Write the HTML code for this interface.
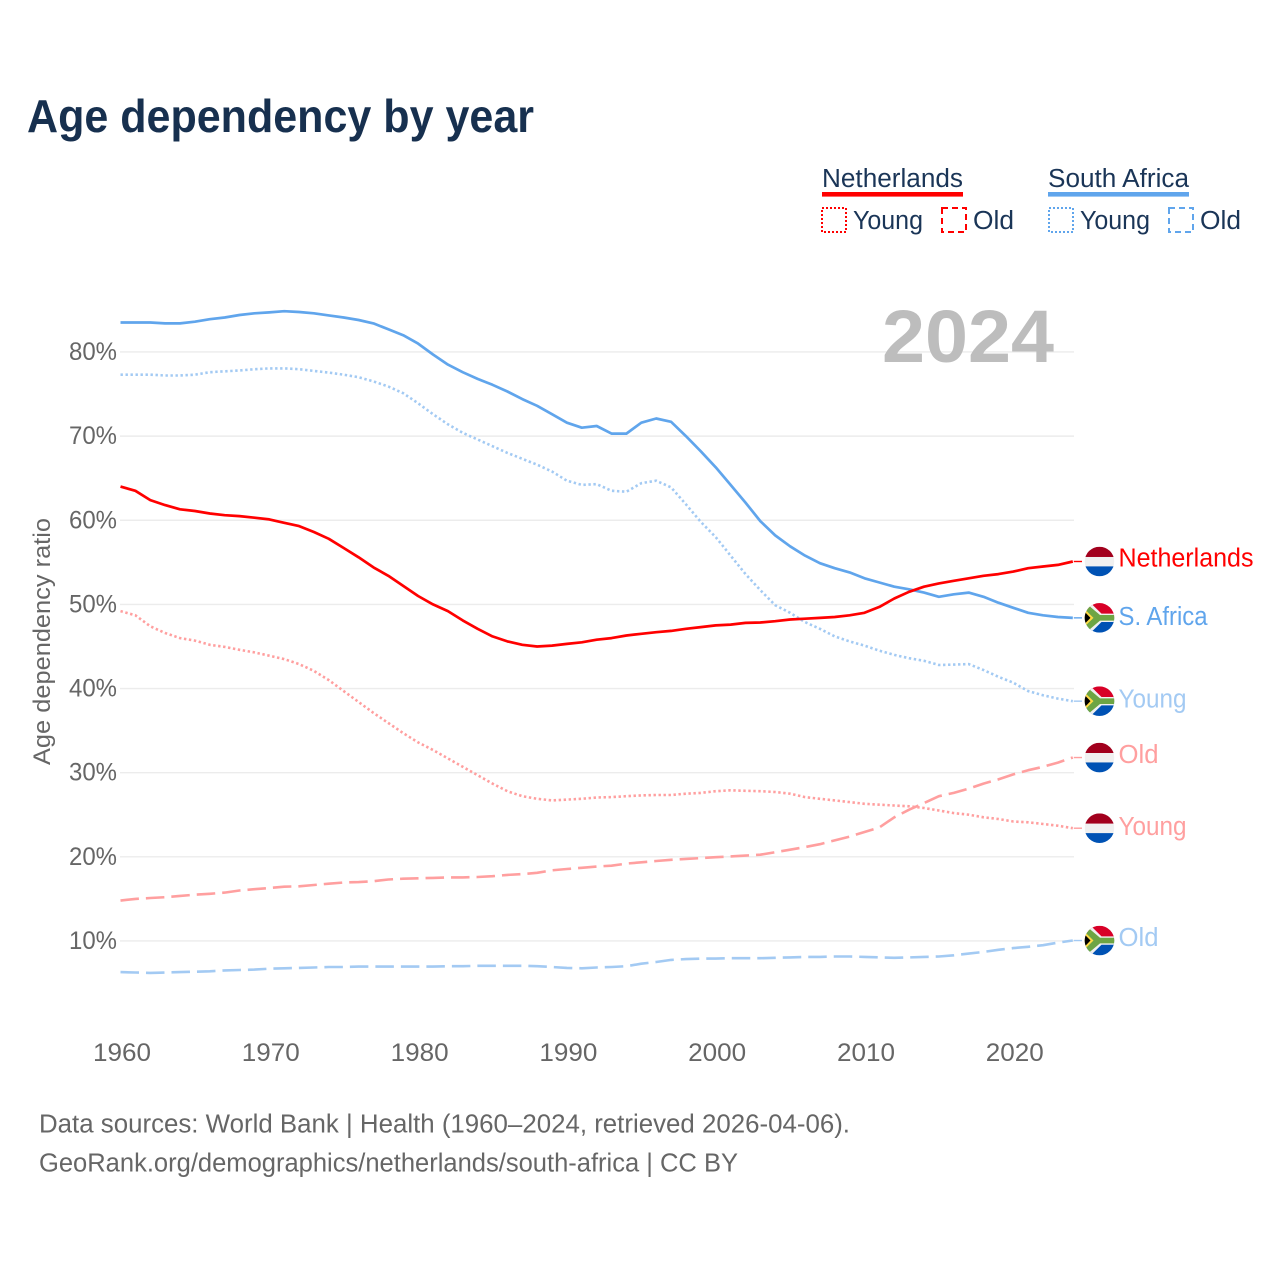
<!DOCTYPE html>
<html lang="en">
<head>
<meta charset="utf-8">
<title>Age dependency by year</title>
<style>
  html,body{margin:0;padding:0;background:#fff;}
  svg{display:block;}
  text{font-family:"Liberation Sans",sans-serif;}
</style>
</head>
<body>
<svg id="chart" xmlns="http://www.w3.org/2000/svg" width="1280" height="1280" viewBox="0 0 1280 1280">
  <rect width="1280" height="1280" fill="#ffffff"/>
  <text x="27" y="132" font-size="46" font-weight="700" fill="#17304f" textLength="507" lengthAdjust="spacingAndGlyphs">Age dependency by year</text>

  <g font-size="25.5" fill="#1a3557">
    <text x="822" y="187" textLength="141" lengthAdjust="spacingAndGlyphs">Netherlands</text>
    <rect x="822" y="192" width="141" height="4.6" fill="#ff0000"/>
    <rect x="822" y="208" width="24" height="24" fill="none" stroke="#ff0000" stroke-width="2" stroke-dasharray="2 2"/>
    <text x="853" y="229" textLength="70" lengthAdjust="spacingAndGlyphs">Young</text>
    <rect x="942" y="208" width="24" height="24" fill="none" stroke="#ff0000" stroke-width="2" stroke-dasharray="6 4"/>
    <text x="973" y="229" textLength="41" lengthAdjust="spacingAndGlyphs">Old</text>

    <text x="1048" y="187" textLength="141" lengthAdjust="spacingAndGlyphs">South Africa</text>
    <rect x="1048" y="192" width="141" height="4.6" fill="#60a5ec"/>
    <rect x="1049" y="208" width="24" height="24" fill="none" stroke="#60a5ec" stroke-width="2" stroke-dasharray="2 2"/>
    <text x="1080" y="229" textLength="70" lengthAdjust="spacingAndGlyphs">Young</text>
    <rect x="1169" y="208" width="24" height="24" fill="none" stroke="#60a5ec" stroke-width="2" stroke-dasharray="6 4"/>
    <text x="1200" y="229" textLength="41" lengthAdjust="spacingAndGlyphs">Old</text>
  </g>

  <g id="grid"></g>
  <g id="yticks"></g>
  <g id="xticks"></g>

  <text x="0" y="0" transform="translate(50 765) rotate(-90)" font-size="24.5" fill="#666666" textLength="247" lengthAdjust="spacingAndGlyphs">Age dependency ratio</text>

  <text x="1054" y="362" text-anchor="end" font-size="74" font-weight="700" fill="#bdbdbd" textLength="172" lengthAdjust="spacingAndGlyphs">2024</text>

  <g id="series"></g>
  <g id="ends"></g>

  <text x="39" y="1132.5" font-size="25.5" fill="#666666" textLength="811" lengthAdjust="spacingAndGlyphs">Data sources: World Bank | Health (1960–2024, retrieved 2026-04-06).</text>
  <text x="39" y="1171.5" font-size="25.5" fill="#666666" textLength="699" lengthAdjust="spacingAndGlyphs">GeoRank.org/demographics/netherlands/south-africa | CC BY</text>
</svg>

<script>
const startYear = 1960;
const xTickYears = [1960, 1970, 1980, 1990, 2000, 2010, 2020];
const yTickValues = [10, 20, 30, 40, 50, 60, 70, 80];

const southAfricaTotal = [
  83.5,83.5,83.5,83.4,83.4,83.6,83.9,84.1,84.4,84.6,
  84.7,84.85,84.75,84.6,84.35,84.1,83.8,83.4,82.7,82.0,
  81.0,79.7,78.5,77.6,76.8,76.1,75.3,74.4,73.6,72.6,
  71.6,71.0,71.2,70.3,70.3,71.6,72.1,71.7,70.0,68.2,
  66.3,64.2,62.1,59.9,58.2,56.9,55.8,54.9,54.3,53.8,
  53.1,52.6,52.1,51.8,51.4,50.9,51.2,51.4,50.9,50.2,
  49.6,49.0,48.7,48.5,48.4
];
const southAfricaYoung = [
  77.3,77.3,77.3,77.2,77.2,77.3,77.6,77.7,77.8,77.95,
  78.05,78.05,77.95,77.75,77.55,77.3,77.0,76.5,75.9,75.1,
  73.9,72.6,71.4,70.4,69.6,68.8,68.0,67.3,66.6,65.8,
  64.7,64.2,64.3,63.5,63.4,64.4,64.7,63.9,61.9,59.8,
  58.0,55.8,53.6,51.7,49.9,49.0,47.9,47.1,46.2,45.6,
  45.1,44.5,44.0,43.6,43.3,42.8,42.85,42.9,42.2,41.4,
  40.7,39.7,39.2,38.8,38.5
];
const southAfricaOld = [
  6.3,6.25,6.2,6.25,6.3,6.35,6.4,6.5,6.55,6.6,
  6.7,6.75,6.8,6.85,6.9,6.9,6.95,6.95,6.95,6.95,
  6.95,6.95,7.0,7.0,7.05,7.05,7.05,7.05,7.0,6.9,
  6.8,6.75,6.85,6.9,7.0,7.3,7.5,7.75,7.85,7.9,
  7.9,7.95,7.95,7.95,8.0,8.05,8.1,8.1,8.15,8.15,
  8.1,8.05,8.0,8.05,8.1,8.15,8.3,8.5,8.7,8.95,
  9.15,9.3,9.5,9.8,10.05
];
const netherlandsTotal = [
  64.0,63.5,62.4,61.8,61.3,61.1,60.8,60.6,60.5,60.3,
  60.1,59.7,59.3,58.6,57.8,56.7,55.6,54.4,53.4,52.2,
  51.0,50.0,49.2,48.1,47.1,46.2,45.6,45.2,45.0,45.1,
  45.3,45.5,45.8,46.0,46.3,46.5,46.7,46.85,47.1,47.3,
  47.5,47.6,47.8,47.85,48.0,48.2,48.3,48.4,48.5,48.7,
  49.0,49.7,50.7,51.5,52.1,52.5,52.8,53.1,53.4,53.6,
  53.9,54.3,54.5,54.7,55.1
];
const netherlandsYoung = [
  49.2,48.7,47.4,46.6,46.0,45.7,45.2,44.95,44.6,44.3,
  43.9,43.5,42.9,42.1,41.0,39.7,38.4,37.1,35.9,34.7,
  33.6,32.7,31.7,30.7,29.7,28.7,27.8,27.2,26.9,26.7,
  26.8,26.9,27.05,27.1,27.2,27.3,27.35,27.35,27.5,27.6,
  27.8,27.9,27.85,27.8,27.7,27.5,27.1,26.9,26.7,26.5,
  26.3,26.2,26.1,26.0,25.8,25.5,25.2,25.0,24.7,24.5,
  24.2,24.1,23.9,23.7,23.4
];
const netherlandsOld = [
  14.8,15.0,15.1,15.2,15.35,15.5,15.6,15.75,16.0,16.15,
  16.3,16.45,16.5,16.65,16.8,16.95,17.0,17.1,17.3,17.4,
  17.45,17.5,17.55,17.55,17.6,17.7,17.85,17.95,18.1,18.4,
  18.55,18.7,18.85,18.95,19.2,19.35,19.5,19.65,19.75,19.85,
  19.95,20.05,20.15,20.25,20.55,20.85,21.15,21.5,21.95,22.4,
  22.95,23.5,24.7,25.6,26.4,27.2,27.6,28.1,28.7,29.2,
  29.8,30.3,30.7,31.2,31.8
];

const NS = 'http://www.w3.org/2000/svg';
const xScale = function (year) { return 120.5 + (year - 1960) * 14.88; };
const yScale = function (value) { return 1025.1 - value * 8.414; };

function svgEl(tag, attrs, parent) {
  const el = document.createElementNS(NS, tag);
  Object.keys(attrs).forEach(function (k) { el.setAttribute(k, attrs[k]); });
  parent.appendChild(el);
  return el;
}

const gridG = document.getElementById('grid');
const yG = document.getElementById('yticks');
const xG = document.getElementById('xticks');

yTickValues.forEach(function (v) {
  const y = yScale(v);
  const line = svgEl('line', {x1: 120, x2: 1074, y1: y, y2: y, stroke: '#ececec', 'stroke-width': 1.4}, gridG);
  
  
  const t = svgEl('text', {x: 117, y: y + 8, 'text-anchor': 'end', 'font-size': 25, fill: '#666666', textLength: 48, lengthAdjust: 'spacingAndGlyphs'}, yG);
  t.textContent = v + '%';
  
  
});

xTickYears.forEach(function (yr) {
  const t = svgEl('text', {x: xScale(yr) + 1.5, y: 1061, 'text-anchor': 'middle', 'font-size': 25, fill: '#666666', textLength: 58, lengthAdjust: 'spacingAndGlyphs'}, xG);
  t.textContent = yr;
  
  
});

const seriesDefs = [
  {id: 'south-africa-old', vals: southAfricaOld, color: '#a3caf3', dash: '18.5 7', w: 2.6, country: 'za', label: 'Old', lw: 40, dy: 5.7},
  {id: 'netherlands-old', vals: netherlandsOld, color: '#ff9f9f', dash: '18.5 7', w: 2.6, country: 'nl', label: 'Old', lw: 40, dy: 5.7},
  {id: 'netherlands-young', vals: netherlandsYoung, color: '#ff9f9f', dash: '2.4 2.6', w: 2.6, country: 'nl', label: 'Young', lw: 68, dy: 7},
  {id: 'south-africa-young', vals: southAfricaYoung, color: '#a3caf3', dash: '2.4 2.6', w: 2.6, country: 'za', label: 'Young', lw: 68, dy: 6.5},
  {id: 'south-africa-total', vals: southAfricaTotal, color: '#60a5ec', dash: null, w: 2.7, country: 'za', label: 'S. Africa', lw: 89, dy: 7},
  {id: 'netherlands-total', vals: netherlandsTotal, color: '#ff0000', dash: null, w: 2.7, country: 'nl', label: 'Netherlands', lw: 135, dy: 5}
];

function drawFlag(parent, country, cx, cy, id) {
  const r = 14.8;
  const clip = svgEl('clipPath', {id: 'clip-' + id}, parent);
  svgEl('circle', {cx: cx, cy: cy, r: r}, clip);
  const g = svgEl('g', {'clip-path': 'url(#clip-' + id + ')'}, parent);
  
  
  const x0 = cx - r, d = r * 2, top = cy - r;
  if (country === 'nl') {
    svgEl('rect', {x: x0, y: top, width: d, height: 10.3, fill: '#a2001d'}, g);
    svgEl('rect', {x: x0, y: top + 10.3, width: d, height: 9.4, fill: '#f0f0f0'}, g);
    svgEl('rect', {x: x0, y: top + 19.7, width: d, height: 10, fill: '#0052b4'}, g);
  } else {
    svgEl('rect', {x: x0, y: top, width: d, height: r, fill: '#d80027'}, g);
    svgEl('rect', {x: x0, y: cy, width: d, height: r, fill: '#0052b4'}, g);
    const p = function (a, b) { return (cx + a) + ',' + (cy + b); };
    svgEl('polygon', {points: [p(-15,-15), p(-9,-15), p(2,-4.2), p(15,-4.2), p(15,4.2), p(2,4.2), p(-9,15), p(-15,15)].join(' '), fill: '#f0f0f0'}, g);
    svgEl('polygon', {points: [p(-15,-12.5), p(-11,-12.5), p(0.5,-2.8), p(15,-2.8), p(15,2.8), p(0.5,2.8), p(-11,12.5), p(-15,12.5)].join(' '), fill: '#6da544'}, g);
    svgEl('polygon', {points: [p(-15,-8.8), p(-6,0), p(-15,8.8)].join(' '), fill: '#ffda44'}, g);
    svgEl('polygon', {points: [p(-15,-6.2), p(-9,0), p(-15,6.2)].join(' '), fill: '#000000'}, g);
  }
}

const seriesG = document.getElementById('series');
const endsG = document.getElementById('ends');

seriesDefs.forEach(function (s) {
  const pts = s.vals.map(function (v, i) {
    return xScale(startYear + i).toFixed(1) + ',' + yScale(v).toFixed(1);
  });
  const attrs = {points: pts.join(' '), fill: 'none', stroke: s.color, 'stroke-width': s.w, 'stroke-linejoin': 'round'};
  if (s.dash) attrs['stroke-dasharray'] = s.dash;
  const line = svgEl('polyline', attrs, seriesG);
  
  

  const lastVal = s.vals[s.vals.length - 1];
  const lastX = xScale(startYear + s.vals.length - 1);
  const endY = yScale(lastVal);

  const stub = svgEl('line', {x1: lastX + 1, x2: 1082, y1: endY, y2: endY, stroke: s.color, 'stroke-width': 1.4}, seriesG);
  
  

  drawFlag(endsG, s.country, 1099.5, endY, s.id);

  const label = svgEl('text', {x: 1118.5, y: endY + s.dy, 'font-size': 25.5, fill: s.color, textLength: s.lw, lengthAdjust: 'spacingAndGlyphs'}, endsG);
  label.textContent = s.label;
  
  
});
</script>
</body>
</html>
